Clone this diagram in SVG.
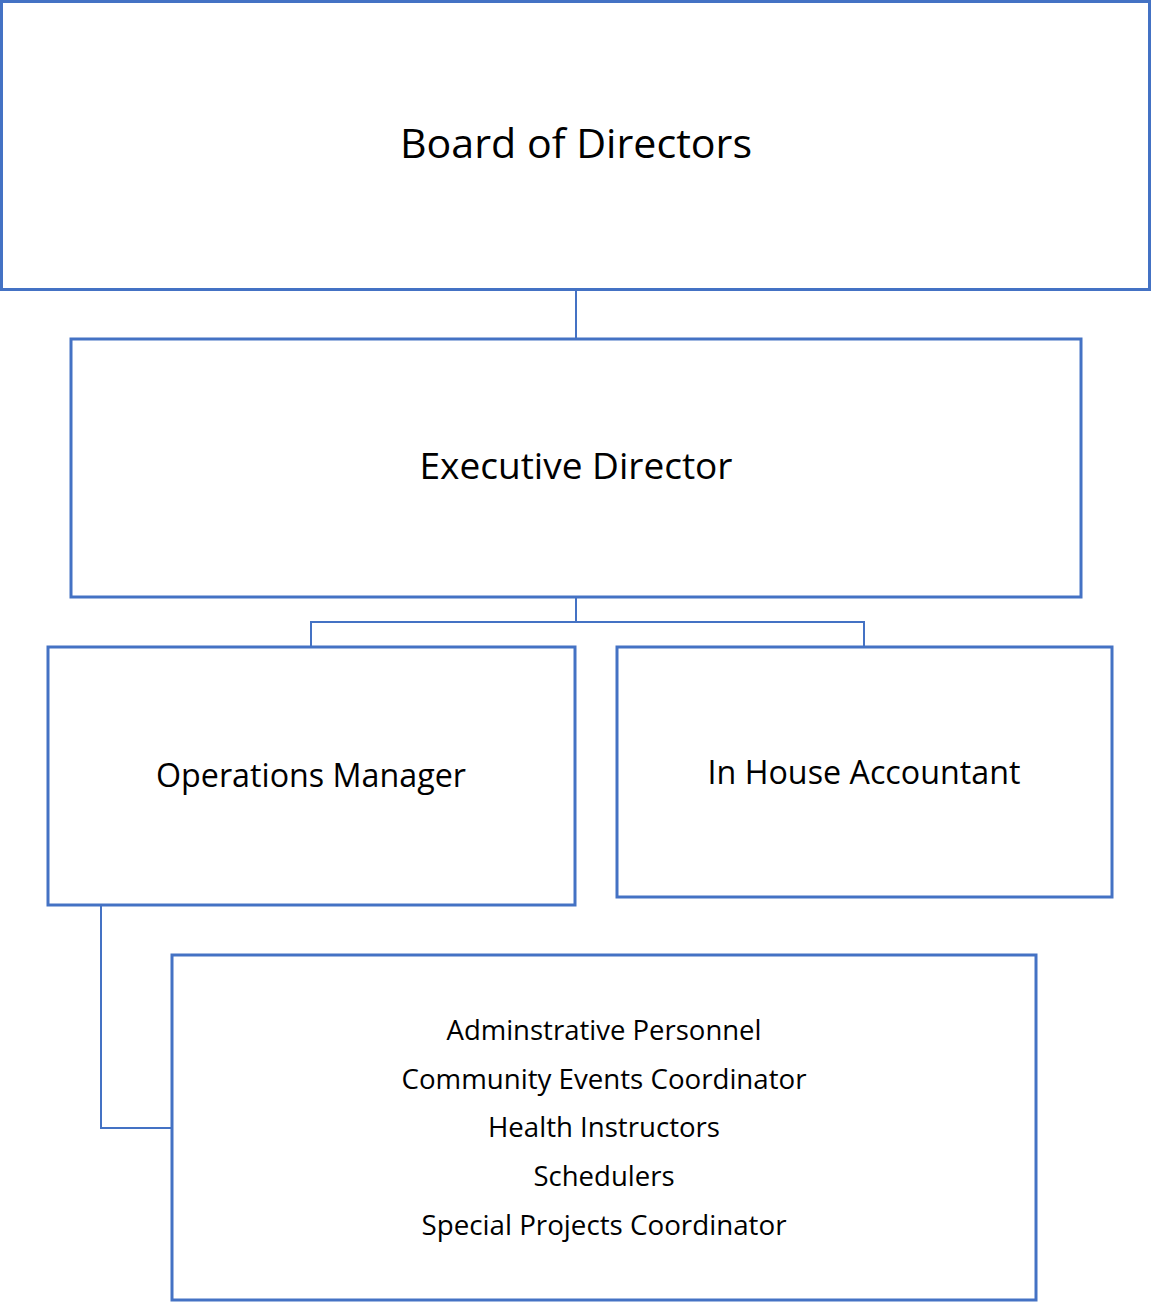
<svg xmlns="http://www.w3.org/2000/svg" width="1151" height="1302" viewBox="0 0 1151 1302">
<style>
.box{fill:#fff;stroke:#4472C4;stroke-width:3}
.con{fill:none;stroke:#4472C4;stroke-width:2}
text{font-family:"Open Sans","Liberation Sans",sans-serif;fill:#000;text-anchor:middle}
</style>
<rect width="1151" height="1302" fill="#fff"/>
<g id="connectors">
<path class="con" d="M576 289V339"/>
<path class="con" d="M576 597V622M311 647V622H864V647"/>
<path class="con" d="M101 905V1128H172"/>
</g>
<g id="board">
<rect class="box" x="1.5" y="1.5" width="1148" height="288"/>
<text x="576" y="158" font-size="41" textLength="352" lengthAdjust="spacingAndGlyphs">Board of Directors</text>
</g>
<g id="exec">
<rect class="box" x="71" y="339" width="1010" height="258"/>
<text x="576" y="479" font-size="36" textLength="313" lengthAdjust="spacingAndGlyphs">Executive Director</text>
</g>
<g id="ops">
<rect class="box" x="48" y="647" width="527" height="258"/>
<text x="311" y="787" font-size="32" textLength="310" lengthAdjust="spacingAndGlyphs">Operations Manager</text>
</g>
<g id="accountant">
<rect class="box" x="617" y="647" width="495" height="250"/>
<text x="864" y="784" font-size="32" textLength="313" lengthAdjust="spacingAndGlyphs">In House Accountant</text>
</g>
<g id="staff">
<rect class="box" x="172" y="955" width="864" height="345"/>
<text x="604" y="1040" font-size="27" textLength="315" lengthAdjust="spacingAndGlyphs">Adminstrative Personnel</text>
<text x="604" y="1089" font-size="27" textLength="405" lengthAdjust="spacingAndGlyphs">Community Events Coordinator</text>
<text x="604" y="1137" font-size="27" textLength="232" lengthAdjust="spacingAndGlyphs">Health Instructors</text>
<text x="604" y="1186" font-size="27" textLength="141" lengthAdjust="spacingAndGlyphs">Schedulers</text>
<text x="604" y="1235" font-size="27" textLength="365" lengthAdjust="spacingAndGlyphs">Special Projects Coordinator</text>
</g>
</svg>
